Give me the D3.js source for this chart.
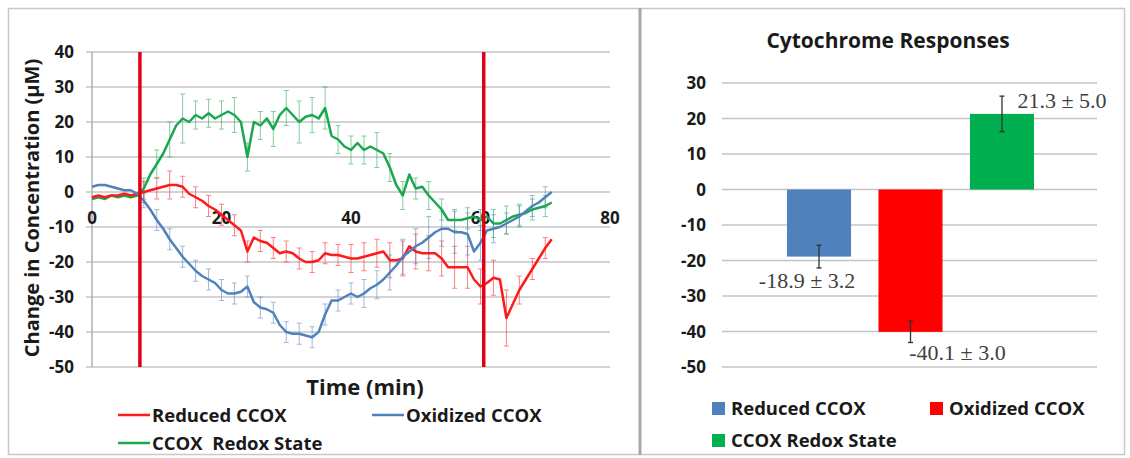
<!DOCTYPE html>
<html>
<head>
<meta charset="utf-8">
<script src="https://cdn.jsdelivr.net/npm/d3@7"></script>
<style>
  body { margin: 0; background: #fff; }
  svg text { font-family: "Open Sans", Lato, sans-serif; font-weight: bold; fill: #1a1a1a; }
</style>
</head>
<body>
<div id="chart"></div>
<script>
// time (min), one reading per minute
var time = d3.range(0, 72);

var reduced = [-1.5, -1, -1.5, -1, -1, -0.5, -1, -0.5, 0, 0.5, 1, 1.5, 2, 2, 1.5, -0.5, -1.5, -2.5, -4, -5,
  -6.5, -8, -9.5, -11, -17, -13, -14, -14.5, -16, -17.5, -17, -17.5, -19, -20, -20, -19.5, -17.5, -18, -18, -18.5,
  -19, -19, -18.5, -18, -17.5, -17, -19.5, -19.5, -19, -15.5, -17, -17.5, -17.5, -17.5, -19, -21.5, -21.5, -21.5, -21.5, -25,
  -27, -26, -24.5, -25, -36, -32, -28, -25, -22, -19, -16, -13.5];

var oxidized = [1.5, 2, 2, 1.5, 1, 0.5, 0.5, -0.5, -2.5, -5, -8, -10.5, -13.5, -16, -18.5, -20.5, -22.5, -24, -25, -26,
  -28, -29, -29, -28.5, -27, -31.5, -33, -33.5, -34.5, -38, -40, -40.5, -40.5, -41, -41.5, -40, -35, -31, -31, -30,
  -29, -30, -29, -27.5, -26.5, -25, -23, -21, -18.5, -17, -15.5, -14.5, -13, -11.5, -10.5, -10.5, -11.5, -11.5, -12, -17,
  -14.5, -11, -10.5, -10, -9, -8, -7, -5.5, -4, -3, -1.5, 0];

var redox = [-2, -1.5, -2, -1, -1.5, -1, -1.5, -1, 1, 5, 8, 11, 15, 19, 21, 20, 22, 21, 22.5, 21,
  22, 23, 22, 20, 10, 20, 19, 21, 18, 22, 24, 22, 20, 21.5, 22, 21, 24, 16, 15, 13,
  12, 14, 12, 13, 12, 11, 7, 2, -1, 5, 1, 1.5, -1, -3, -5, -8, -8, -8, -7.5, -7,
  -8, -7, -9, -9, -8, -7, -6.5, -6, -5, -4.5, -4, -3];

// error bars, every 2 min from 8 to 70
var errTime = d3.range(8, 72, 2);
var reducedErr = [3, 3, 4, 3, 3, 3, 3, 3, 3, 3, 3, 3, 3, 3, 3, 3, 4, 4, 4, 5, 5, 5, 5, 5, 6, 6, 5, 5, 8, 4, 3, 3];
var oxidizedErr = [2, 3, 3, 3, 3, 3, 3, 3, 3, 3, 3, 3, 3, 3, 3, 3, 3, 4, 4, 5, 5, 5, 6, 5, 6, 6, 5, 4, 3, 3, 3, 3];
var redoxErr = [3, 4, 5, 7, 4, 4, 4, 5, 4, 4, 5, 5, 6, 5, 6, 4, 4, 4, 5, 4, 4, 3, 4, 3, 3, 3, 3, 4, 4, 3, 3, 3];

// stimulus markers (min)
var markers = [7.4, 60.5];

var lineTicksX = [0, 20, 40, 60, 80];
var lineTicksY = [40, 30, 20, 10, 0, -10, -20, -30, -40, -50];

// bar chart
var barNames = ["Reduced CCOX", "Oxidized CCOX", "CCOX Redox State"];
var barValues = [-18.9, -40.1, 21.3];
var barErrors = [3.2, 3.0, 5.0];
var barTicksY = [30, 20, 10, 0, -10, -20, -30, -40, -50];

var width = 1130,
    height = 458;

var svg = d3.select("#chart")
  .append("svg")
  .attr("width", width)
  .attr("height", height);

//=========================================================================
// Panel frames
//=========================================================================

svg.append("rect")
  .attr("x", 8.5).attr("y", 8.5)
  .attr("width", 1116).attr("height", 446)
  .attr("fill", "none")
  .attr("stroke", "#c8c8c8")
  .attr("stroke-width", 1.5);

svg.append("line")
  .attr("x1", 640).attr("x2", 640)
  .attr("y1", 8).attr("y2", 455)
  .attr("stroke", "#a8a8a8")
  .attr("stroke-width", 3);

//=========================================================================
// Left: time course
//=========================================================================

var colors = { reduced: "#ff1a1a", oxidized: "#4f81bd", redox: "#1aa84f" };

var x = d3.scaleLinear().domain([0, 80]).range([92, 610]);
var y = d3.scaleLinear().domain([-50, 40]).range([367, 52]);

var gLeft = svg.append("g");

// gridlines
gLeft.append("g")
  .selectAll("line")
  .data(lineTicksY)
  .enter()
  .append("line")
  .attr("x1", x(0) - 6).attr("x2", x(80))
  .attr("y1", (d) => y(d)).attr("y2", (d) => y(d))
  .attr("stroke", "#c4c4c4")
  .attr("stroke-width", 1.5);

// y axis
gLeft.append("line")
  .attr("x1", x(0)).attr("x2", x(0))
  .attr("y1", y(40)).attr("y2", y(-50))
  .attr("stroke", "#b0b0b0")
  .attr("stroke-width", 1.5);

gLeft.append("g")
  .selectAll("text")
  .data(lineTicksY)
  .enter()
  .append("text")
  .attr("x", 74)
  .attr("y", (d) => y(d) + 6)
  .attr("text-anchor", "end")
  .style("font-size", "17px")
  .text((d) => d);

// x tick labels sit just under the zero line
gLeft.append("g")
  .selectAll("text")
  .data(lineTicksX)
  .enter()
  .append("text")
  .attr("x", (d) => x(d))
  .attr("y", y(0) + 32)
  .attr("text-anchor", "middle")
  .style("font-size", "17px")
  .text((d) => d);

// error bars
function draw_errors(vals, errs, color){
  var pts = errTime.map((t, i) => ({ t: t, v: vals[time.indexOf(t)], e: errs[i] }));
  var g = gLeft.append("g")
    .attr("stroke", color)
    .attr("stroke-width", 1)
    .attr("opacity", 0.55);
  g.selectAll("line.v")
    .data(pts).enter().append("line")
    .attr("x1", (d) => x(d.t)).attr("x2", (d) => x(d.t))
    .attr("y1", (d) => y(d.v + d.e)).attr("y2", (d) => y(d.v - d.e));
  [1, -1].forEach((s) => {
    g.selectAll("line.c" + s)
      .data(pts).enter().append("line")
      .attr("x1", (d) => x(d.t) - 2.5).attr("x2", (d) => x(d.t) + 2.5)
      .attr("y1", (d) => y(d.v + s * d.e)).attr("y2", (d) => y(d.v + s * d.e));
  });
}

draw_errors(redox, redoxErr, colors.redox);
draw_errors(reduced, reducedErr, colors.reduced);
draw_errors(oxidized, oxidizedErr, colors.oxidized);

var line = d3.line()
  .x((d, i) => x(time[i]))
  .y((d) => y(d));

[[redox, colors.redox], [reduced, colors.reduced], [oxidized, colors.oxidized]].forEach((s) => {
  gLeft.append("path")
    .attr("d", line(s[0]))
    .attr("fill", "none")
    .attr("stroke", s[1])
    .attr("stroke-width", 2.5)
    .attr("stroke-linejoin", "round");
});

// stimulus markers
gLeft.selectAll("line.marker")
  .data(markers)
  .enter()
  .append("line")
  .attr("x1", (d) => x(d)).attr("x2", (d) => x(d))
  .attr("y1", y(40)).attr("y2", y(-50))
  .attr("stroke", "#e0001a")
  .attr("stroke-width", 3.5);

// axis titles
gLeft.append("text")
  .attr("x", 365).attr("y", 395)
  .attr("text-anchor", "middle")
  .style("font-size", "22px")
  .text("Time (min)");

gLeft.append("text")
  .attr("transform", "translate(39,208)rotate(-90)")
  .attr("text-anchor", "middle")
  .style("font-size", "20px")
  .text("Change in Concentration (μM)");

// legend
var leftLegend = [
  { name: "Reduced CCOX", color: colors.reduced, lx: 118, ly: 415 },
  { name: "Oxidized CCOX", color: colors.oxidized, lx: 372, ly: 415 },
  { name: "CCOX  Redox State", color: colors.redox, lx: 118, ly: 443 }
];

var lg = gLeft.selectAll("g.legend")
  .data(leftLegend)
  .enter()
  .append("g");

lg.append("line")
  .attr("x1", (d) => d.lx).attr("x2", (d) => d.lx + 32)
  .attr("y1", (d) => d.ly).attr("y2", (d) => d.ly)
  .attr("stroke", (d) => d.color)
  .attr("stroke-width", 2.5);

lg.append("text")
  .attr("x", (d) => d.lx + 34)
  .attr("y", (d) => d.ly + 7)
  .style("font-size", "18.5px")
  .style("white-space", "pre")
  .attr("xml:space", "preserve")
  .text((d) => d.name);

//=========================================================================
// Right: bar chart
//=========================================================================

var barColors = ["#4f81bd", "#ff0000", "#00b050"];

var xb = d3.scaleBand().domain(barNames).range([787, 1034]).paddingInner(0.3);
var yb = d3.scaleLinear().domain([-50, 30]).range([367, 83]);

var gRight = svg.append("g");

gRight.append("text")
  .attr("x", 888).attr("y", 48)
  .attr("text-anchor", "middle")
  .style("font-size", "21px")
  .text("Cytochrome Responses");

gRight.append("g")
  .selectAll("line")
  .data(barTicksY)
  .enter()
  .append("line")
  .attr("x1", 722).attr("x2", 1097)
  .attr("y1", (d) => yb(d)).attr("y2", (d) => yb(d))
  .attr("stroke", "#c4c4c4")
  .attr("stroke-width", 1.5);

gRight.append("g")
  .selectAll("text")
  .data(barTicksY)
  .enter()
  .append("text")
  .attr("x", 706)
  .attr("y", (d) => yb(d) + 6)
  .attr("text-anchor", "end")
  .style("font-size", "17px")
  .text((d) => d);

gRight.selectAll("rect.bar")
  .data(barValues)
  .enter()
  .append("rect")
  .attr("x", (d, i) => xb(barNames[i]))
  .attr("width", xb.bandwidth())
  .attr("y", (d) => yb(Math.max(0, d)))
  .attr("height", (d) => Math.abs(yb(d) - yb(0)))
  .attr("fill", (d, i) => barColors[i]);

// error bars
var eb = gRight.selectAll("g.err")
  .data(barValues)
  .enter()
  .append("g")
  .attr("stroke", "#303030")
  .attr("stroke-width", 1.3);

eb.append("line")
  .attr("x1", (d, i) => xb(barNames[i]) + xb.bandwidth() / 2)
  .attr("x2", (d, i) => xb(barNames[i]) + xb.bandwidth() / 2)
  .attr("y1", (d, i) => yb(d + barErrors[i]))
  .attr("y2", (d, i) => yb(d - barErrors[i]));

[1, -1].forEach((s) => {
  eb.append("line")
    .attr("x1", (d, i) => xb(barNames[i]) + xb.bandwidth() / 2 - 2.5)
    .attr("x2", (d, i) => xb(barNames[i]) + xb.bandwidth() / 2 + 2.5)
    .attr("y1", (d, i) => yb(d + s * barErrors[i]))
    .attr("y2", (d, i) => yb(d + s * barErrors[i]));
});

// value labels
var labelShift = [[-12, -6.9], [47, -6], [60, 3.6]];
gRight.selectAll("text.val")
  .data(barValues)
  .enter()
  .append("text")
  .attr("x", (d, i) => xb(barNames[i]) + xb.bandwidth() / 2 + labelShift[i][0])
  .attr("y", (d, i) => yb(d + labelShift[i][1]) + 7)
  .attr("text-anchor", "middle")
  .style("font-family", "'Liberation Serif', 'DejaVu Serif', serif")
  .style("font-weight", "normal")
  .style("font-size", "22px")
  .style("fill", "#404040")
  .text((d, i) => d.toFixed(1) + " ± " + barErrors[i].toFixed(1));

// legend
var rightLegend = [
  { lx: 712, ly: 408 },
  { lx: 930, ly: 408 },
  { lx: 712, ly: 440 }
];

var rl = gRight.selectAll("g.rlegend")
  .data(barNames)
  .enter()
  .append("g");

rl.append("rect")
  .attr("x", (d, i) => rightLegend[i].lx)
  .attr("y", (d, i) => rightLegend[i].ly - 6)
  .attr("width", 13).attr("height", 13)
  .attr("fill", (d, i) => barColors[i]);

rl.append("text")
  .attr("x", (d, i) => rightLegend[i].lx + 19)
  .attr("y", (d, i) => rightLegend[i].ly + 7)
  .style("font-size", "18.5px")
  .text((d) => d);
</script>
</body>
</html>
